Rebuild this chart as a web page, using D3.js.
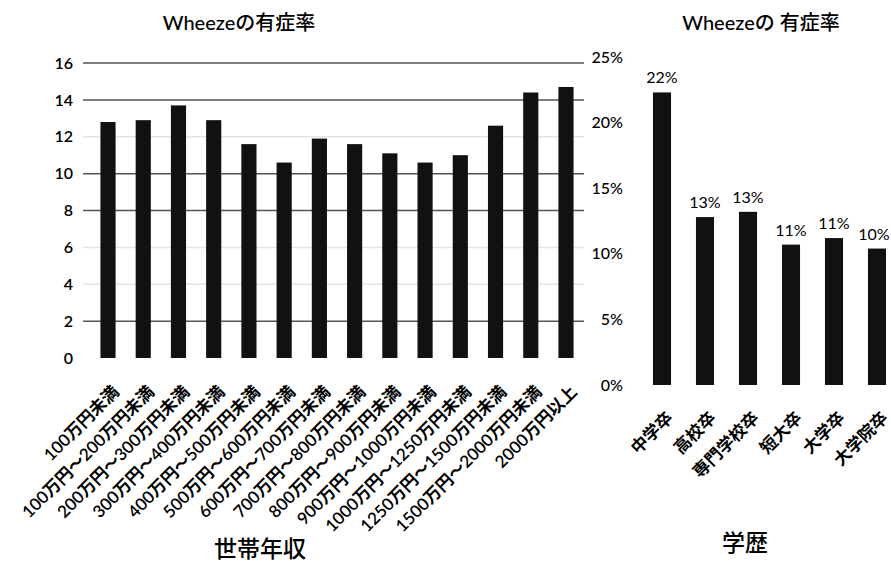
<!DOCTYPE html>
<html>
<head>
<meta charset="utf-8">
<script src="https://cdn.jsdelivr.net/npm/d3@7"></script>
<style>
  html, body { margin: 0; padding: 0; background: #fff; }
  svg text { font-family: Lato, "Noto Sans CJK JP", sans-serif; fill: #000; }
</style>
</head>
<body>
<svg id="chart" width="891" height="561"></svg>
<script>
// Household income groups and wheeze prevalence (%)
const incomeCategories = [
  "100万円未満", "100万円～200万円未満", "200万円～300万円未満", "300万円～400万円未満",
  "400万円～500万円未満", "500万円～600万円未満", "600万円～700万円未満", "700万円～800万円未満",
  "800万円～900万円未満", "900万円～1000万円未満", "1000万円～1250万円未満",
  "1250万円～1500万円未満", "1500万円～2000万円未満", "2000万円以上"
];
const incomeValues = [12.8, 12.9, 13.7, 12.9, 11.6, 10.6, 11.9, 11.6, 11.1, 10.6, 11.0, 12.6, 14.4, 14.7];
const incomeTicks = [0, 2, 4, 6, 8, 10, 12, 14, 16];
const incomeStrongGrid = [2, 8, 10, 14, 16];

// Education level and wheeze prevalence (%)
const eduCategories = ["中学卒", "高校卒", "専門学校卒", "短大卒", "大学卒", "大学院卒"];
const eduValues = [22.3, 12.8, 13.2, 10.7, 11.2, 10.4];
const eduTicks = [0, 5, 10, 15, 20, 25];

const W = 891;
const svg = d3.select("#chart");

// ---------- Left chart: income ----------
const xInc = d3.scaleBand().domain(incomeCategories).range([90.4, 583.6])
  .paddingInner(0.57).paddingOuter(0.285);
const yInc = d3.scaleLinear().domain([0, 16]).range([358, 63]);

svg.append("text").attr("x", 239).attr("y", 30).attr("text-anchor", "middle")
  .attr("font-size", 20).attr("font-weight", 500).text("Wheezeの有症率");

const gridL = svg.append("g");
gridL.selectAll("line").data(incomeTicks.filter(d => d > 0)).join("line")
  .attr("x1", 83).attr("x2", 584)
  .attr("y1", d => yInc(d)).attr("y2", d => yInc(d))
  .attr("stroke", d => incomeStrongGrid.includes(d) ? "#555" : "#e4e4e4")
  .attr("stroke-width", 1.5);

const axL = svg.append("g").attr("transform", "translate(73,0)")
  .call(d3.axisLeft(yInc).tickValues(incomeTicks).tickSize(0).tickPadding(0));
axL.select(".domain").remove();
axL.selectAll("text").attr("font-size", 16).attr("font-weight", 600).attr("font-family", null);

svg.append("g").selectAll("rect").data(incomeValues).join("rect")
  .attr("x", (d, i) => xInc(incomeCategories[i]))
  .attr("width", xInc.bandwidth())
  .attr("y", d => yInc(d))
  .attr("height", d => yInc(0) - yInc(d))
  .attr("fill", "#111");

svg.append("g").selectAll("text").data(incomeCategories).join("text")
  .attr("transform", d => `translate(${xInc(d) + xInc.bandwidth() / 2 + 3},${yInc(0) + 26}) rotate(-45)`)
  .attr("text-anchor", "end").attr("dy", "0.75em")
  .attr("font-size", 17).attr("font-weight", 600)
  .text(d => d);

svg.append("text").attr("x", 260).attr("y", 557).attr("text-anchor", "middle")
  .attr("font-size", 23).attr("font-weight", 500).text("世帯年収");

// ---------- Right chart: education ----------
const xEdu = d3.scaleBand().domain(eduCategories).range([640.5, 898.5])
  .paddingInner(0.58).paddingOuter(0.29);
const yEdu = d3.scaleLinear().domain([0, 25]).range([385, 57]);

svg.append("text").attr("x", 761).attr("y", 30).attr("text-anchor", "middle")
  .attr("font-size", 20).attr("font-weight", 500).text("Wheezeの 有症率");

const axR = svg.append("g").attr("transform", "translate(623,0)")
  .call(d3.axisLeft(yEdu).tickValues(eduTicks).tickSize(0).tickPadding(0)
    .tickFormat(d => d + "%"));
axR.select(".domain").remove();
axR.selectAll("text").attr("font-size", 16).attr("font-weight", 500).attr("font-family", null);

svg.append("g").selectAll("rect").data(eduValues).join("rect")
  .attr("x", (d, i) => xEdu(eduCategories[i]))
  .attr("width", xEdu.bandwidth())
  .attr("y", d => yEdu(d))
  .attr("height", d => yEdu(0) - yEdu(d))
  .attr("fill", "#111");

// value labels above bars, kept inside the right edge of the canvas
svg.append("g").selectAll("text").data(eduValues).join("text")
  .attr("x", (d, i) => Math.min(xEdu(eduCategories[i]) + xEdu.bandwidth() / 2, W - 17))
  .attr("y", d => yEdu(d) - 9)
  .attr("text-anchor", "middle").attr("font-size", 16)
  .text(d => Math.round(d) + "%");

svg.append("g").selectAll("text").data(eduCategories).join("text")
  .attr("transform", d => `translate(${xEdu(d) + xEdu.bandwidth() / 2 + 3},${yEdu(0) + 25}) rotate(-45)`)
  .attr("text-anchor", "end").attr("dy", "0.75em")
  .attr("font-size", 17).attr("font-weight", 600)
  .text(d => d);

svg.append("text").attr("x", 745).attr("y", 551).attr("text-anchor", "middle")
  .attr("font-size", 23).attr("font-weight", 500).text("学歴");
</script>
</body>
</html>
